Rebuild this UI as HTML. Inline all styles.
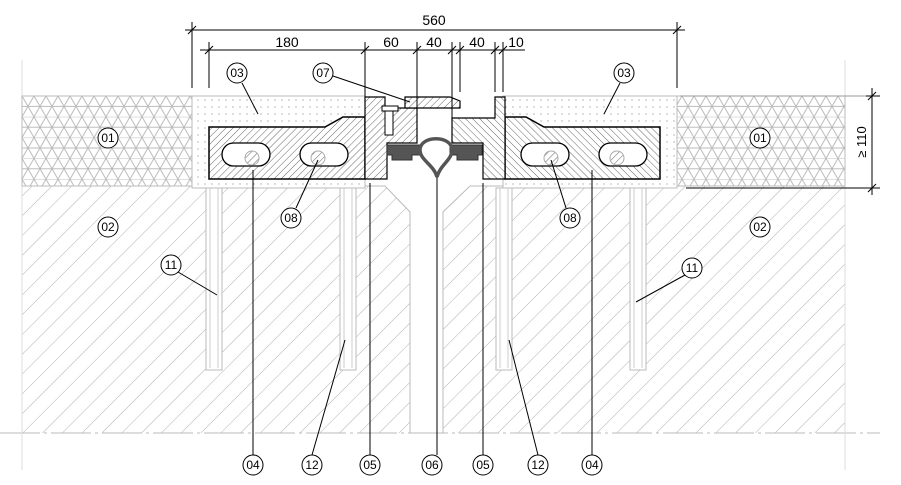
<!DOCTYPE html>
<html><head><meta charset="utf-8"><style>
html,body{margin:0;padding:0;background:#fff;}
svg{display:block;}
text{font-family:"Liberation Sans",sans-serif;}
</style></head><body>
<svg width="901" height="485" viewBox="0 0 901 485" xmlns="http://www.w3.org/2000/svg">
<defs>
<pattern id="conc" width="14" height="14" patternUnits="userSpaceOnUse" patternTransform="rotate(45)">
<line x1="0" y1="0" x2="0" y2="14" stroke="#b0b0b0" stroke-width="1"/></pattern>
<pattern id="steelL" width="5" height="5" patternUnits="userSpaceOnUse" patternTransform="rotate(45)">
<line x1="0" y1="0" x2="0" y2="5" stroke="#555" stroke-width="0.9"/></pattern>
<pattern id="steelR" width="5" height="5" patternUnits="userSpaceOnUse" patternTransform="rotate(-45)">
<line x1="0" y1="0" x2="0" y2="5" stroke="#555" stroke-width="0.9"/></pattern>
<pattern id="dots" width="7" height="7" patternUnits="userSpaceOnUse">
<circle cx="2" cy="2" r="0.6" fill="#888"/></pattern>
<pattern id="tri" width="12" height="20.8" patternUnits="userSpaceOnUse" x="22" y="96">
<path d="M-1 0H13M-1 10.4H13M0 0L12 20.8M12 0L0 20.8" stroke="#bbb" stroke-width="1" fill="none"/></pattern>
</defs>

<!-- concrete -->
<path d="M22 186H385L410 212V433H22Z" fill="url(#conc)"/>
<path d="M845 186H470L443 212V433H845Z" fill="url(#conc)"/>
<path d="M22 186H385L410 212V433" fill="none" stroke="#bbb"/>
<path d="M845 186H470L443 212V433" fill="none" stroke="#bbb"/>
<line x1="0" y1="433" x2="880" y2="433" stroke="#bbb" stroke-dasharray="40 4 3 4"/>
<line x1="22" y1="60" x2="22" y2="470" stroke="#ddd"/>
<line x1="845" y1="60" x2="845" y2="470" stroke="#ddd"/>

<!-- 01 -->
<rect x="22" y="96" width="170" height="90" fill="url(#tri)" stroke="#bbb"/>
<rect x="677" y="96" width="168" height="90" fill="url(#tri)" stroke="#bbb"/>

<!-- 03 dotted -->
<rect x="192" y="96" width="173" height="92" fill="#fff" stroke="#bbb"/>
<rect x="192" y="96" width="173" height="92" fill="url(#dots)"/>
<rect x="503" y="96" width="174" height="92" fill="#fff" stroke="#bbb"/>
<rect x="503" y="96" width="174" height="92" fill="url(#dots)"/>

<!-- anchors -->
<g fill="#fff" stroke="#bbb">
<rect x="206" y="188" width="16" height="182"/><rect x="340" y="188" width="16" height="182"/>
<rect x="496" y="188" width="16" height="182"/><rect x="630" y="188" width="16" height="182"/>
</g>
<g stroke="#ccc"><line x1="210" y1="188" x2="210" y2="368"/><line x1="218" y1="188" x2="218" y2="368"/>
<line x1="344" y1="188" x2="344" y2="368"/><line x1="352" y1="188" x2="352" y2="368"/>
<line x1="500" y1="188" x2="500" y2="368"/><line x1="508" y1="188" x2="508" y2="368"/>
<line x1="634" y1="188" x2="634" y2="368"/><line x1="642" y1="188" x2="642" y2="368"/></g>

<!-- steel blocks -->
<path d="M209 127H325L343 117H365V179H209Z" fill="#fff"/>
<path d="M209 127H325L343 117H365V179H209Z" fill="url(#steelL)" stroke="#000" stroke-width="1.5"/>
<path d="M660 127H544L526 117H505V179H660Z" fill="#fff"/>
<path d="M660 127H544L526 117H505V179H660Z" fill="url(#steelR)" stroke="#000" stroke-width="1.5"/>
<g fill="#fff" stroke="#000" stroke-width="1.3">
<rect x="222" y="143" width="48" height="23" rx="11.5"/><rect x="300" y="143" width="48" height="23" rx="11.5"/>
<rect x="521" y="143" width="48" height="23" rx="11.5"/><rect x="599" y="143" width="48" height="23" rx="11.5"/>
</g>
<g fill="url(#steelL)" stroke="#aaa"><circle cx="252" cy="158" r="7"/><circle cx="318" cy="158" r="7"/>
<circle cx="551" cy="158" r="7"/><circle cx="617" cy="158" r="7"/></g>

<!-- profiles -->
<path d="M365 97H385V108H417V143H387V179H365Z" fill="#fff"/>
<path d="M365 97H385V108H417V143H387V179H365Z" fill="url(#steelL)" stroke="#000" stroke-width="1.2"/>
<path d="M405 97H450L460 101V108H405Z" fill="#fff"/>
<path d="M405 97H450L460 101V108H405Z" fill="url(#steelL)" stroke="#000" stroke-width="1.2"/>
<rect x="382" y="106" width="16" height="5" fill="#fff" stroke="#000"/>
<rect x="385" y="111" width="8" height="24" fill="#fff" stroke="#000"/>
<path d="M452 118H495V97H505V179H483V143H452Z" fill="#fff"/>
<path d="M452 118H495V97H505V179H483V143H452Z" fill="url(#steelR)" stroke="#000" stroke-width="1.2"/>
<path d="M387 145H420V155H412V160H392V155H387Z" fill="#555" stroke="#333"/>
<path d="M482 145H450V155H457V160H478V155H482Z" fill="#555" stroke="#333"/>
<path d="M420 150C420 135 452 135 452 150C452 160 440 165 437 177C434 165 420 160 420 150Z" fill="none" stroke="#555" stroke-width="3.5"/>

<!-- dimensions -->
<g stroke="#000" stroke-width="1" fill="none">
<line x1="185" y1="30" x2="685" y2="30"/>
<line x1="200" y1="50" x2="525" y2="50"/>
<line x1="192" y1="22" x2="192" y2="88"/><line x1="677" y1="22" x2="677" y2="88"/>
<line x1="209" y1="42" x2="209" y2="88"/><line x1="365" y1="42" x2="365" y2="97"/>
<line x1="417" y1="42" x2="417" y2="108"/><line x1="452" y1="42" x2="452" y2="118"/>
<line x1="460" y1="42" x2="460" y2="92"/><line x1="495" y1="42" x2="495" y2="92"/><line x1="503" y1="42" x2="503" y2="92"/>
<path d="M188 34L196 26M673 34L681 26M205 54L213 46M361 54L369 46M413 54L421 46M448 54L456 46M456 54L464 46M491 54L499 46M499 54L507 46"/>
<line x1="872" y1="88" x2="872" y2="195"/>
<line x1="680" y1="96" x2="880" y2="96" stroke="#999"/><line x1="686" y1="188" x2="880" y2="188"/>
<path d="M866 96H880M868 100L876 92M866 188H880M868 192L876 184"/>
</g>
<g font-size="14" fill="#000" text-anchor="middle">
<text x="434" y="25">560</text><text x="287" y="47">180</text><text x="391" y="47">60</text>
<text x="434" y="47">40</text><text x="477" y="47">40</text><text x="516" y="47">10</text>
<text transform="translate(866,142) rotate(-90)" font-size="13">≥ 110</text>
</g>

<!-- leaders -->
<g stroke="#000" stroke-width="1" fill="none">
<line x1="253" y1="455" x2="253" y2="170"/><line x1="592" y1="455" x2="592" y2="170"/>
<line x1="370" y1="455" x2="370" y2="183"/><line x1="483" y1="455" x2="483" y2="183"/>
<line x1="437" y1="455" x2="437" y2="177"/>
<line x1="312" y1="455" x2="345" y2="340"/><line x1="538" y1="455" x2="509" y2="340"/>
<line x1="178" y1="272" x2="217" y2="295"/><line x1="685" y1="275" x2="636" y2="302"/>
<line x1="296" y1="208" x2="318" y2="160"/><line x1="566" y1="208" x2="551" y2="160"/>
<line x1="242" y1="83" x2="258" y2="114"/><line x1="620" y1="83" x2="604" y2="114"/>
<line x1="333" y1="76" x2="410" y2="102"/>
</g>
<g fill="#fff" stroke="#000" stroke-width="1">
<circle cx="253" cy="465" r="10"/><circle cx="312" cy="465" r="10"/><circle cx="370" cy="465" r="10"/>
<circle cx="432" cy="465" r="10"/><circle cx="483" cy="465" r="10"/><circle cx="538" cy="465" r="10"/><circle cx="592" cy="465" r="10"/>
<circle cx="291" cy="218" r="10"/><circle cx="570" cy="218" r="10"/>
<circle cx="171" cy="265" r="10"/><circle cx="692" cy="268" r="10"/>
<circle cx="108" cy="227" r="10"/><circle cx="760" cy="227" r="10"/>
<circle cx="108" cy="138" r="10"/><circle cx="760" cy="138" r="10"/>
<circle cx="237" cy="73" r="10"/><circle cx="624" cy="73" r="10"/><circle cx="323" cy="73" r="10"/>
</g>
<g font-size="12" fill="#000" text-anchor="middle">
<text x="253" y="469">04</text><text x="312" y="469">12</text><text x="370" y="469">05</text>
<text x="432" y="469">06</text><text x="483" y="469">05</text><text x="538" y="469">12</text><text x="592" y="469">04</text>
<text x="291" y="222">08</text><text x="570" y="222">08</text>
<text x="171" y="269">11</text><text x="692" y="272">11</text>
<text x="108" y="231">02</text><text x="760" y="231">02</text>
<text x="108" y="142">01</text><text x="760" y="142">01</text>
<text x="237" y="77">03</text><text x="624" y="77">03</text><text x="323" y="77">07</text>
</g>
</svg>
</body></html>
